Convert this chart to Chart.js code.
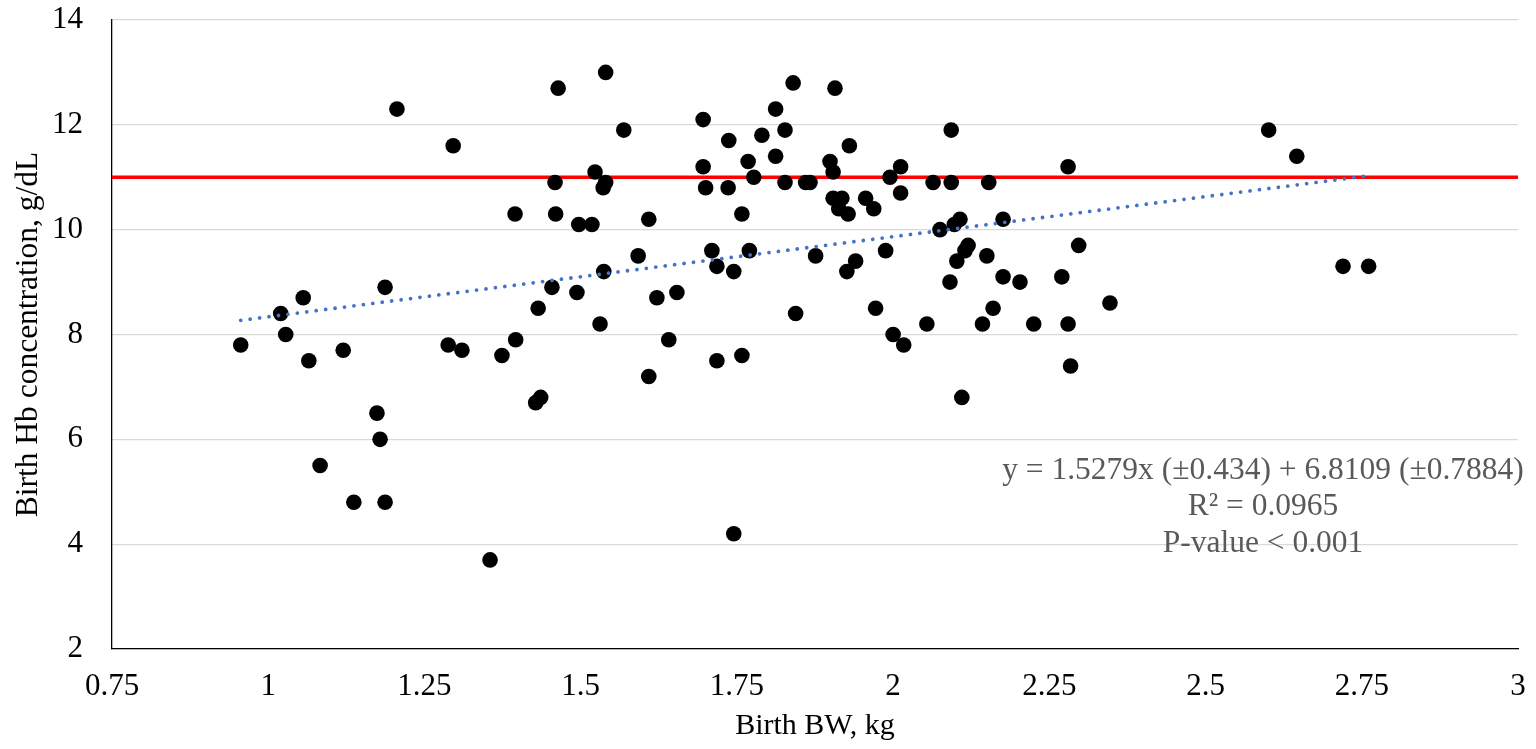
<!DOCTYPE html>
<html>
<head>
<meta charset="utf-8">
<script src="https://cdn.jsdelivr.net/npm/chart.js@4"></script>
<style>
  html, body { margin: 0; padding: 0; background: #fff; }
  canvas { display: block; }
</style>
</head>
<body>
<canvas id="hbChart" width="1536" height="749"></canvas>
<script>
// birth body weight (kg) and birth Hb concentration (g/dL), one entry per calf
const birthBW = [
  0.956, 1.02, 1.028, 1.056, 1.065, 1.083, 1.12, 1.137, 1.174, 1.179,
  1.187, 1.187, 1.206, 1.288, 1.296, 1.31, 1.355, 1.374, 1.395, 1.396,
  1.428, 1.432, 1.436, 1.454, 1.459, 1.46, 1.464, 1.494, 1.497, 1.518,
  1.523, 1.531, 1.536, 1.537, 1.54, 1.54, 1.569, 1.592, 1.609, 1.609,
  1.622, 1.641, 1.654, 1.696, 1.696, 1.70, 1.71, 1.718, 1.718, 1.736,
  1.737, 1.745, 1.745, 1.758, 1.758, 1.768, 1.77, 1.777, 1.79, 1.812,
  1.812, 1.827, 1.827, 1.84, 1.844, 1.86, 1.867, 1.876, 1.899, 1.904,
  1.907, 1.904, 1.913, 1.918, 1.926, 1.928, 1.93, 1.94, 1.956, 1.969,
  1.972, 1.988, 1.995, 2.0, 2.012, 2.012, 2.017, 2.054, 2.064, 2.075,
  2.091, 2.093, 2.093, 2.102, 2.098, 2.107, 2.11, 2.115, 2.12, 2.143,
  2.15, 2.153, 2.16, 2.176, 2.176, 2.203, 2.225, 2.27, 2.28, 2.28,
  2.284, 2.297, 2.347, 2.601, 2.646, 2.72, 2.761
];
const birthHb = [
  7.8, 8.4, 8.0, 8.7, 7.5, 5.5, 7.7, 4.8, 6.5, 6.0,
  8.9, 4.8, 12.3, 7.8, 11.6, 7.7, 3.7, 7.6, 10.3, 7.9,
  6.7, 8.5, 6.8, 8.9, 10.9, 10.3, 12.7, 8.8, 10.1, 10.1,
  11.1, 8.2, 10.8, 9.2, 10.9, 13.0, 11.9, 9.5, 7.2, 10.2,
  8.7, 7.9, 8.8, 12.1, 11.2, 10.8, 9.6, 9.3, 7.5, 10.8,
  11.7, 9.2, 4.2, 10.3, 7.6, 11.3, 9.6, 11.0, 11.8, 12.3,
  11.4, 11.9, 10.9, 12.8, 8.4, 10.9, 10.9, 9.5, 11.3, 11.1,
  12.7, 10.6, 10.4, 10.6, 9.2, 10.3, 11.6, 9.4, 10.6, 10.4,
  8.5, 9.6, 11.0, 8.0, 11.2, 10.7, 7.8, 8.2, 10.9, 10.0,
  9.0, 10.9, 11.9, 9.4, 10.1, 10.2, 6.8, 9.6, 9.7, 8.2,
  9.5, 10.9, 8.5, 9.1, 10.2, 9.0, 8.2, 9.1, 11.2, 8.2,
  7.4, 9.7, 8.6, 11.9, 11.4, 9.3, 9.3
];

// linear trend (end points as drawn) and the 11 g/dL reference line
const trendX = [0.956, 2.761];
const trendY = [8.27, 11.03];
const refX = [0.75, 3];
const refY = [11, 11];

const xTicks = [0.75, 1, 1.25, 1.5, 1.75, 2, 2.25, 2.5, 2.75, 3];
const yTicks = [2, 4, 6, 8, 10, 12, 14];

const fitText = [
  "y = 1.5279x (\u00b10.434) + 6.8109 (\u00b10.7884)",
  "R\u00b2 = 0.0965",
  "P-value < 0.001"
];

const toPoints = (xs, ys) => xs.map((x, i) => ({ x: x, y: ys[i] }));

const FONT = "'Liberation Serif', 'Times New Roman', serif";

// regression equation written in the lower right of the plot
const fitLabel = {
  id: "fitLabel",
  afterDatasetsDraw(chart) {
    const ctx = chart.ctx;
    ctx.save();
    ctx.font = "31.5px " + FONT;
    ctx.fillStyle = "#595959";
    ctx.textAlign = "center";
    ctx.textBaseline = "middle";
    const cx = 1263;
    const lines = [471, 507, 544];
    fitText.forEach((t, i) => ctx.fillText(t, cx, lines[i]));
    ctx.restore();
  }
};

new Chart(document.getElementById("hbChart"), {
  type: "scatter",
  data: {
    datasets: [
      {
        label: "Trend",
        type: "line",
        data: toPoints(trendX, trendY),
        borderColor: "#4472C4",
        borderWidth: 3.8,
        borderDash: [0.01, 9.5],
        borderCapStyle: "round",
        pointRadius: 0,
        fill: false,
        order: 0
      },
      {
        label: "Calves",
        data: toPoints(birthBW, birthHb),
        backgroundColor: "#000000",
        borderWidth: 0,
        pointRadius: 7.8,
        pointHoverRadius: 7.8,
        order: 1
      },
      {
        label: "Reference",
        type: "line",
        data: toPoints(refX, refY),
        borderColor: "#FF0000",
        borderWidth: 3.5,
        pointRadius: 0,
        fill: false,
        order: 2
      }
    ]
  },
  options: {
    responsive: false,
    animation: false,
    devicePixelRatio: 1,
    layout: {
      autoPadding: false,
      padding: { top: 20, right: 18, bottom: 0, left: 0 }
    },
    plugins: {
      legend: { display: false },
      tooltip: { enabled: false }
    },
    scales: {
      x: {
        type: "linear",
        min: 0.75,
        max: 3,
        afterBuildTicks: (s) => { s.ticks = xTicks.map(v => ({ value: v })); },
        afterFit: (s) => { s.height = 100; s.paddingLeft = 0; s.paddingRight = 0; },
        grid: { display: false, drawTicks: false },
        border: { display: true, color: "#000000", width: 1.3 },
        ticks: {
          padding: 19,
          color: "#000000",
          font: { family: FONT, size: 31 },
          maxRotation: 0,
          callback: (v) => String(v)
        },
        title: {
          display: true,
          text: "Birth BW, kg",
          color: "#000000",
          font: { family: FONT, size: 30 },
          padding: { top: 0, bottom: 5 }
        }
      },
      y: {
        type: "linear",
        min: 2,
        max: 14,
        afterBuildTicks: (s) => { s.ticks = yTicks.map(v => ({ value: v })); },
        afterFit: (s) => { s.width = 112; s.paddingTop = 0; s.paddingBottom = 0; },
        grid: { color: "#D9D9D9", lineWidth: 1.3, drawTicks: false },
        border: { display: true, color: "#000000", width: 1.3 },
        ticks: {
          padding: 29,
          color: "#000000",
          font: { family: FONT, size: 31 },
          callback: (v) => String(v)
        },
        title: {
          display: true,
          text: "Birth Hb concentration, g/dL",
          color: "#000000",
          font: { family: FONT, size: 31.5 },
          padding: { top: 10, bottom: 0 }
        }
      }
    }
  },
  plugins: [fitLabel]
});
</script>
</body>
</html>
